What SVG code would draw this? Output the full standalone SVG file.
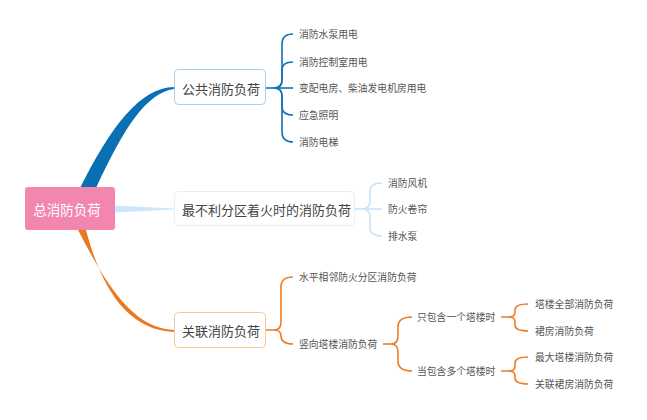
<svg xmlns="http://www.w3.org/2000/svg" width="647" height="420" viewBox="0 0 647 420">
<style>
.main{font-family:"Noto Sans CJK SC","Noto Sans",sans-serif;font-size:13px;fill:#444;dominant-baseline:central}
.root{font-family:"Noto Sans CJK SC","Noto Sans",sans-serif;font-size:13.5px;fill:#fff;dominant-baseline:central;text-anchor:middle}
.leaf{font-family:"Noto Sans CJK SC","Noto Sans",sans-serif;font-size:9.8px;fill:#555;dominant-baseline:central}
.b{fill:none;stroke:#1372b6;stroke-width:1.6}
.lb{fill:none;stroke:#c8e3fb;stroke-width:1.6}
.o{fill:none;stroke:#ee7d25;stroke-width:1.6}
</style>
<rect width="647" height="420" fill="#fff"/>
<g id="connectors">
<path d="M80 188 C112 125 140 88 174 87 L174 89 C146 93 124 128 96 188 Z" fill="#0a70b3"/>
<path d="M115 205.5 L174 208.5 L174 209.5 L115 212.5 Z" fill="#cde6fb"/>
<path d="M78 230 C106 284 132 328 174 330 L174 332 C128 330 102 290 86 230 Z" fill="#ea7a22"/>
<!-- box1 braces -->
<path class="b" d="M266 88 H293"/>
<path class="b" d="M274 88 Q282 88 282 80 V44 Q282 34 293 34"/>
<path class="b" d="M274 88 Q282 88 282 80 V70 Q282 62 293 62"/>
<path class="b" d="M274 88 Q282 88 282 96 V107 Q282 115 293 115"/>
<path class="b" d="M274 88 Q282 88 282 96 V132 Q282 142 293 142"/>
<!-- box2 braces -->
<path class="lb" d="M354 209 H382"/>
<path class="lb" d="M362 209 Q370 209 370 201 V191 Q370 183 382 183"/>
<path class="lb" d="M362 209 Q370 209 370 217 V228 Q370 236 382 236"/>
<!-- box3 braces -->
<path class="o" d="M266 330 H274 Q281 330 281 322 V287 Q281 277 293 277"/>
<path class="o" d="M274 330 Q281 330 281 336 V336 Q281 344 293 344"/>
<!-- 竖向 braces -->
<path class="o" d="M383 344 H391 Q398 344 398 336 V327 Q398 317 412 317"/>
<path class="o" d="M391 344 Q398 344 398 352 V361 Q398 371 412 371"/>
<!-- 只包含 braces -->
<path class="o" d="M501 317 H509 Q515 317 515 312 V310 Q515 304 528 304"/>
<path class="o" d="M509 317 Q515 317 515 322 V325 Q515 331 528 331"/>
<!-- 当包含 braces -->
<path class="o" d="M501 371 H509 Q515 371 515 366 V363 Q515 357 528 357"/>
<path class="o" d="M509 371 Q515 371 515 376 V378 Q515 384 528 384"/>
</g>
<g id="root">
<rect x="25" y="187" width="90" height="43" rx="3" fill="#f386ae"/>
<text class="root" x="67" y="209">总消防负荷</text>
</g>
<g id="n1">
<rect x="174.5" y="69.5" width="91" height="35" rx="4" fill="#fff" stroke="#a6d0ee"/>
<text class="main" x="182" y="88">公共消防负荷</text>
</g>
<g id="n2">
<rect x="174.5" y="191.5" width="180" height="34" rx="4" fill="#fff" stroke="#e2effd"/>
<text class="main" x="182" y="209">最不利分区着火时的消防负荷</text>
</g>
<g id="n3">
<rect x="174.5" y="312.5" width="91" height="35" rx="4" fill="#fff" stroke="#f8c897"/>
<text class="main" x="182" y="330">关联消防负荷</text>
</g>
<g id="n1-children">
<text class="leaf" x="299" y="34">消防水泵用电</text>
<text class="leaf" x="299" y="62">消防控制室用电</text>
<text class="leaf" x="299" y="88">变配电房、柴油发电机房用电</text>
<text class="leaf" x="299" y="115">应急照明</text>
<text class="leaf" x="299" y="142">消防电梯</text>
</g>
<g id="n2-children">
<text class="leaf" x="388" y="183">消防风机</text>
<text class="leaf" x="388" y="209">防火卷帘</text>
<text class="leaf" x="388" y="236">排水泵</text>
</g>
<g id="n3-children">
<text class="leaf" x="299" y="277">水平相邻防火分区消防负荷</text>
<text class="leaf" x="299" y="344">竖向塔楼消防负荷</text>
</g>
<g id="n3-sub">
<text class="leaf" x="417" y="317">只包含一个塔楼时</text>
<text class="leaf" x="417" y="371">当包含多个塔楼时</text>
</g>
<g id="n3-leaves">
<text class="leaf" x="535" y="304">塔楼全部消防负荷</text>
<text class="leaf" x="535" y="331">裙房消防负荷</text>
<text class="leaf" x="535" y="357">最大塔楼消防负荷</text>
<text class="leaf" x="535" y="384">关联裙房消防负荷</text>
</g>
</svg>
